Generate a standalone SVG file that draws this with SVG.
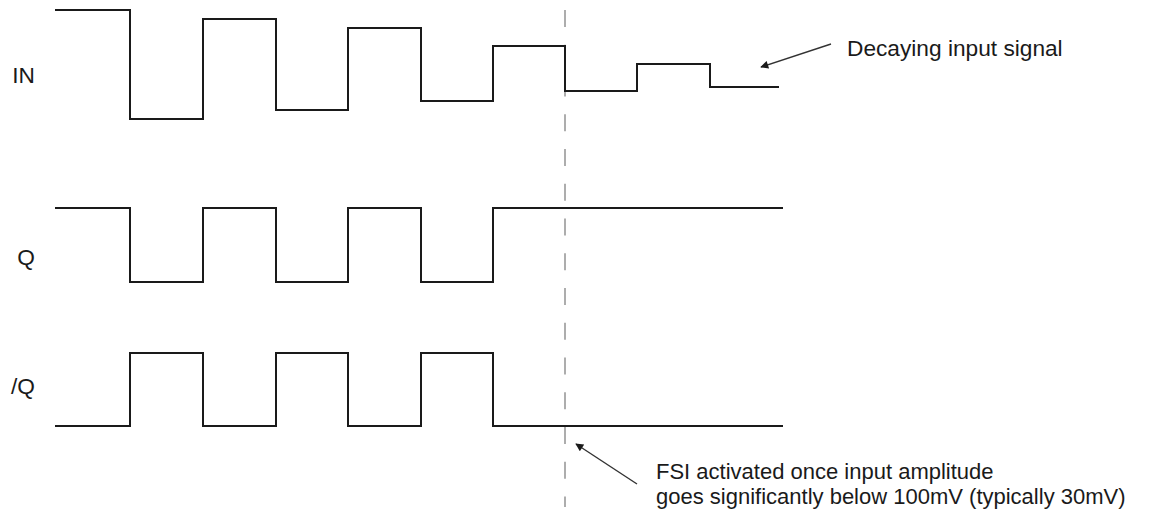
<svg xmlns="http://www.w3.org/2000/svg" width="1160" height="516" viewBox="0 0 1160 516">
<style>
.wave{fill:none;stroke:#1a1a1a;stroke-width:2;stroke-linejoin:miter;stroke-linecap:square}
.lbl{font-family:"Liberation Sans",Arial,sans-serif;font-size:22.7px;fill:#1a1a1a}
.note{font-family:"Liberation Sans",Arial,sans-serif;font-size:22.7px;fill:#1a1a1a}
.note2{font-family:"Liberation Sans",Arial,sans-serif;font-size:22px;fill:#1a1a1a}
.arrow{stroke:#333;stroke-width:1.4;fill:none}
.dash{stroke:#999;stroke-width:1.6;stroke-dasharray:17 17.75;fill:none}
</style>
<defs>
<marker id="ah" viewBox="0 0 10 10" refX="9" refY="5" markerWidth="11" markerHeight="8" markerUnits="userSpaceOnUse" orient="auto">
<path d="M0,0 L10,5 L0,10 Z" fill="#1a1a1a"/>
</marker>
</defs>
<rect width="1160" height="516" fill="#fff"/>
<g id="marker-line">
<line class="dash" x1="565" y1="10" x2="565" y2="507"/>
</g>
<g id="IN">
<text class="lbl" x="35" y="83" text-anchor="end">IN</text>
<path class="wave" d="M56,10 H130 V119 H203 V19 H276 V110 H348 V28 H421 V101 H493 V46 H565 V91 H637 V64 H710 V87 H778"/>
</g>
<g id="Q">
<text class="lbl" x="35" y="265" text-anchor="end">Q</text>
<path class="wave" d="M56,208 H130 V282 H203 V208 H276 V282 H348 V208 H421 V282 H493 V208 H782"/>
</g>
<g id="nQ">
<text class="lbl" x="35" y="394" text-anchor="end">/Q</text>
<path class="wave" d="M56,426 H130 V353 H203 V426 H276 V353 H348 V426 H421 V353 H493 V426 H782"/>
</g>
<g id="connectors">
<line class="arrow" x1="831" y1="44" x2="761" y2="67" marker-end="url(#ah)"/>
<line class="arrow" x1="637" y1="484" x2="576" y2="444" marker-end="url(#ah)"/>
</g>
<g id="note-decay">
<text class="note" x="847" y="56">Decaying input signal</text>
</g>
<g id="note-fsi">
<text class="note2" x="656" y="478.5">FSI activated once input amplitude</text>
<text class="note2" x="656" y="503.5">goes significantly below 100mV (typically 30mV)</text>
</g>
</svg>
